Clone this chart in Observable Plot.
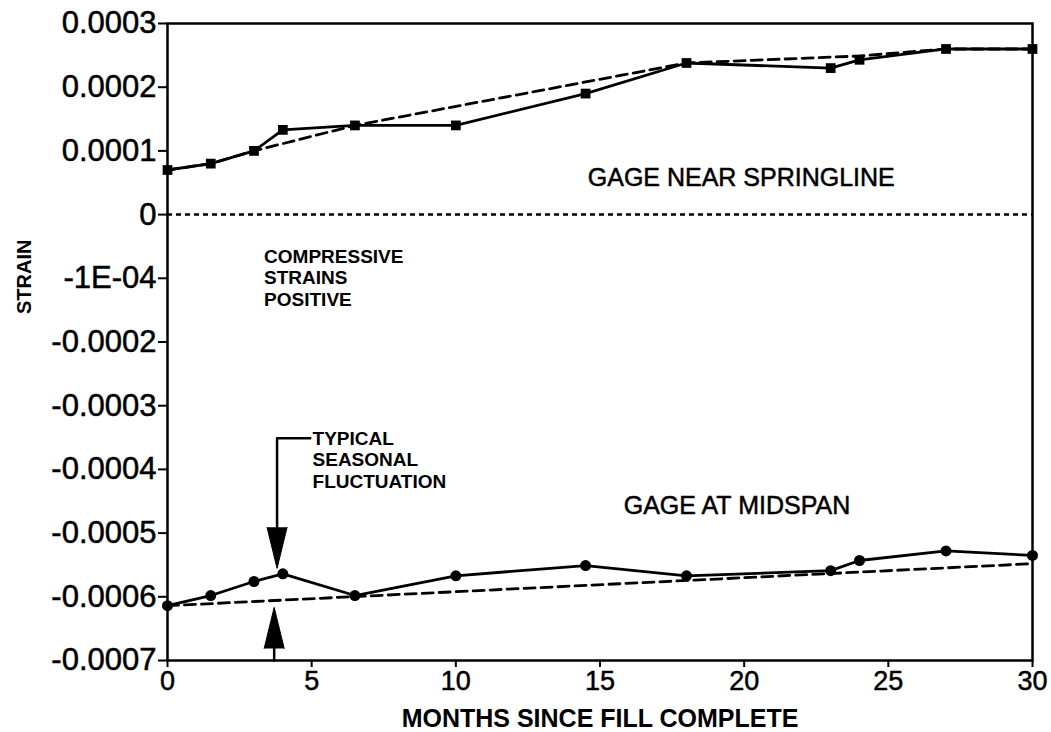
<!DOCTYPE html>
<html><head><meta charset="utf-8">
<script src="https://cdn.jsdelivr.net/npm/d3@7"></script>
<script src="https://cdn.jsdelivr.net/npm/@observablehq/plot@0.6"></script>
<style>
body{margin:0;background:#fff} svg{display:block}
g[aria-label="y-axis tick label"] text, g[aria-label="x-axis tick label"] text {stroke:#000; stroke-width:0.5px;}
</style>
</head><body><div id="chart"></div>
<script>
// --- data ---
const months = [0, 1.5, 3, 4, 6.5, 10, 14.5, 18, 23, 24, 27, 30];
const springStrain = [0.00007, 0.00008, 0.0001, 0.000133, 0.00014, 0.00014, 0.00019, 0.000238, 0.00023, 0.000243, 0.00026, 0.00026];
const springTrendMonths = [0, 1.5, 3, 6.5, 18, 24, 27, 30];
const springTrendStrain = [0.00007, 0.00008, 0.0001, 0.00014, 0.000238, 0.000249, 0.00026, 0.00026];
const midStrain = [-0.000614, -0.000598, -0.000576, -0.000564, -0.000598, -0.000567, -0.000551, -0.000567, -0.000559, -0.000543, -0.000528, -0.000535];
const midTrendMonths = [0, 30];
const midTrendStrain = [-0.000614, -0.000548];

const xTicks = [0, 5, 10, 15, 20, 25, 30];
const yTicks = [0.0003, 0.0002, 0.0001, 0, -0.0001, -0.0002, -0.0003, -0.0004, -0.0005, -0.0006, -0.0007];
const yTickLabels = ["0.0003", "0.0002", "0.0001", "0", "-1E-04", "-0.0002", "-0.0003", "-0.0004", "-0.0005", "-0.0006", "-0.0007"];

const xTitle = "MONTHS SINCE FILL COMPLETE";
const yTitle = "STRAIN";

const noteText = ["GAGE NEAR SPRINGLINE", "GAGE AT MIDSPAN"];
const noteMonth = [19.9, 19.75];
const noteStrain = [0.000058, -0.000458];

const smallText = ["COMPRESSIVE\nSTRAINS\nPOSITIVE", "TYPICAL\nSEASONAL\nFLUCTUATION"];
const smallMonth = [3.35, 5.03];
const smallStrain = [-0.0000989, -0.0003845];

const leaderMonth = [4.95, 3.8, 3.8];
const leaderStrain = [-0.000351, -0.000351, -0.000495];
const stemMonth = [3.7, 3.7];
const stemStrain = [-0.0007, -0.000679];
const arrowMonth = [3.8, 3.7];
const arrowBase = [-0.000491, -0.000681];
const arrowRotate = [180, 0];

// --- tables ---
const spring = months.map((m, i) => ({m, v: springStrain[i]}));
const springTrend = springTrendMonths.map((m, i) => ({m, v: springTrendStrain[i]}));
const mid = months.map((m, i) => ({m, v: midStrain[i]}));
const midTrend = midTrendMonths.map((m, i) => ({m, v: midTrendStrain[i]}));
const leader = leaderMonth.map((m, i) => ({m, v: leaderStrain[i]}));
const stem = stemMonth.map((m, i) => ({m, v: stemStrain[i]}));
const arrows = arrowMonth.map((m, i) => ({m, v: arrowBase[i], r: arrowRotate[i]}));

const font = "'Liberation Sans', Arial, Helvetica, sans-serif";

const chart = Plot.plot({
  width: 1051,
  height: 732,
  marginLeft: 167,
  marginRight: 19,
  marginTop: 23,
  marginBottom: 72,
  style: {fontFamily: font, color: "black", background: "white"},
  x: {domain: [0, 30]},
  y: {domain: [-0.0007, 0.0003]},
  marks: [
    Plot.ruleY([0], {strokeDasharray: "5,4", strokeWidth: 2.5}),
    Plot.line(springTrend, {x: "m", y: "v", strokeDasharray: "11,6", strokeWidth: 2.8}),
    Plot.line(midTrend, {x: "m", y: "v", strokeDasharray: "11,6", strokeWidth: 2.8}),
    Plot.line(spring, {x: "m", y: "v", strokeWidth: 2.8}),
    Plot.line(mid, {x: "m", y: "v", strokeWidth: 2.8}),
    Plot.dot(spring, {x: "m", y: "v", symbol: "square", r: 5.5, fill: "black"}),
    Plot.dot(mid, {x: "m", y: "v", r: 5.5, fill: "black"}),
    Plot.line(leader, {x: "m", y: "v", strokeWidth: 2.5}),
    Plot.line(stem, {x: "m", y: "v", strokeWidth: 2.5}),
    Plot.vector(arrows, {x: "m", y: "v", rotate: "r", length: 41, r: 10, shape: "spike", anchor: "start", fill: "black", stroke: "black", strokeWidth: 1}),
    Plot.text(noteText, {x: (d, i) => noteMonth[i], y: (d, i) => noteStrain[i], text: d => d, fontSize: 25, textAnchor: "middle", lineAnchor: "middle", fill: "black", stroke: "black", strokeWidth: 0.5}),
    Plot.text(smallText, {x: (d, i) => smallMonth[i], y: (d, i) => smallStrain[i], text: d => d, fontSize: 19, fontWeight: "bold", textAnchor: "start", lineAnchor: "middle", lineHeight: 1.13, letterSpacing: -0.8, fill: "black"}),
    Plot.frame({stroke: "black", strokeWidth: 2.5}),
    Plot.axisY({ticks: yTicks, tickFormat: d => yTickLabels[yTicks.indexOf(d)], tickSize: 9, tickPadding: 2, fontSize: 31, label: null, strokeWidth: 2}),
    Plot.axisX({ticks: xTicks, tickSize: 7, tickPadding: 3, fontSize: 27, label: null, strokeWidth: 2}),
    Plot.text([xTitle], {frameAnchor: "bottom", dy: 58, text: d => d, fontSize: 25, fontWeight: "bold", letterSpacing: -0.8, lineAnchor: "middle", fill: "black"}),
    Plot.text([yTitle], {frameAnchor: "left", dx: -143, dy: -28, rotate: -90, text: d => d, fontSize: 20, fontWeight: "bold", letterSpacing: -0.8, lineAnchor: "middle", fill: "black"})
  ]
});
document.getElementById("chart").appendChild(chart);
</script>
</body></html>
